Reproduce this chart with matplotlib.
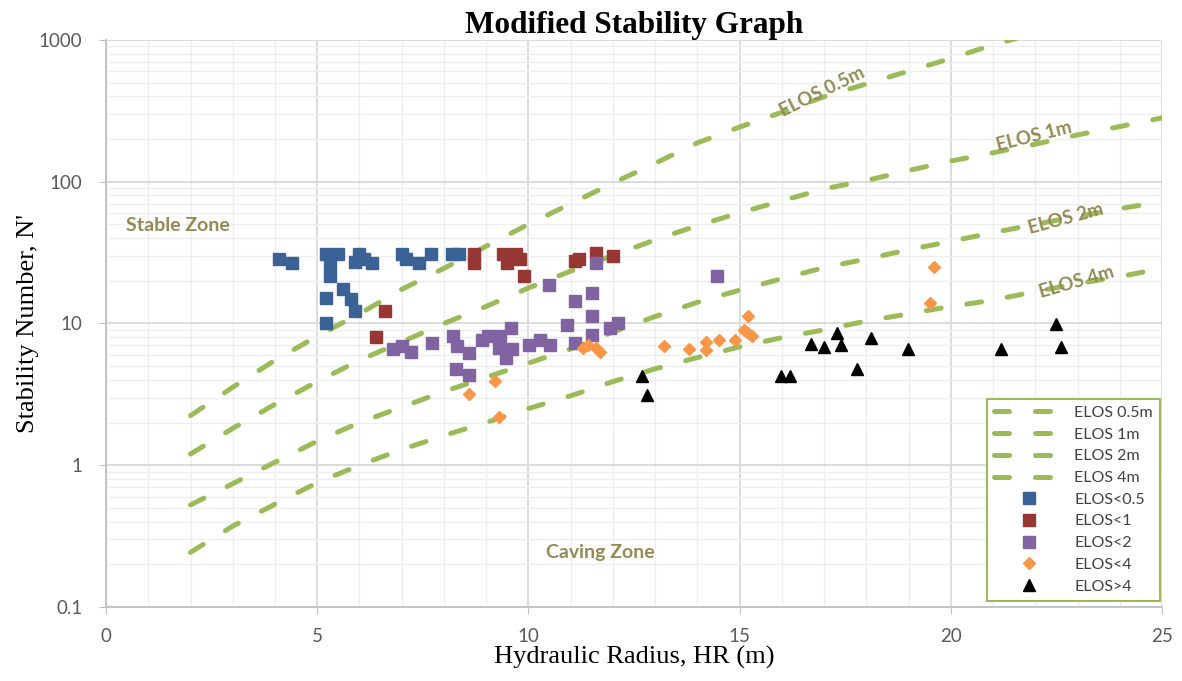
import matplotlib
matplotlib.use('Agg')
import matplotlib.pyplot as plt
from matplotlib.ticker import MultipleLocator, LogLocator, FuncFormatter, NullFormatter

# ELOS design lines (hydraulic radius vs stability number)
elos_x = [2, 3, 4, 5, 6, 7, 8, 9, 10, 11, 12, 13, 14, 15, 16, 17, 18, 19, 20, 21, 22, 23, 24, 25]
elos_05 = [2.24, 3.55, 5.50, 8.13, 11.7, 17.4, 24.5, 35.1, 50.1, 70.0, 97.7, 135, 188, 243,
           309, 398, 490, 603, 741, 923, 1120]
elos_1 = [1.20, 1.82, 2.69, 3.89, 5.50, 7.41, 10.0, 13.2, 17.8, 23.4, 30.2, 38.9, 49.0, 60.3,
          73.3, 89.1, 102, 120, 140, 160, 184, 214, 245, 282]
elos_2 = [0.525, 0.741, 1.05, 1.48, 2.00, 2.57, 3.31, 4.17, 5.25, 6.61, 8.71, 11.2, 14.1, 17.2,
          20.7, 24.8, 28.5, 33.1, 38.0, 43.7, 50.1, 56.9, 64.6, 72.4]
elos_4 = [0.243, 0.372, 0.531, 0.753, 1.00, 1.29, 1.62, 2.00, 2.51, 3.09, 3.89, 4.79, 5.75, 6.84,
          7.94, 9.02, 10.4, 11.7, 13.2, 14.6, 16.8, 19.1, 21.4, 24.5]

# case histories grouped by measured ELOS
hr_05 = [4.1, 4.4, 5.2, 5.5, 5.3, 5.3, 5.2, 5.6, 5.8, 5.9, 5.2, 6.0, 5.9, 6.1, 6.3, 7.0, 7.1, 7.4, 7.7, 8.2, 8.35]
n_05 = [28.5, 26.6, 30.8, 30.8, 26.6, 21.7, 15.1, 17.4, 14.9, 12.3, 10.0, 30.8, 27.3, 28.4, 26.6, 30.8, 28.4, 26.6, 30.8, 30.8, 30.8]

hr_1 = [8.7, 8.7, 9.4, 9.7, 9.5, 9.8, 9.9, 6.6, 6.4, 11.1, 11.2, 11.6, 12.0]
n_1 = [30.9, 26.6, 30.9, 30.9, 26.6, 28.4, 21.7, 12.3, 8.0, 27.7, 28.4, 31.3, 29.9]

hr_2 = [6.8, 7.0, 7.22, 7.71, 8.22, 8.3, 8.6, 8.28, 8.6, 8.89, 9.05, 9.33, 9.31, 9.59, 9.6, 9.48,
        10.01, 10.27, 10.51, 10.49, 11.1, 11.5, 11.5, 10.91, 11.1, 11.5, 11.92, 12.13, 11.6, 14.46]
n_2 = [6.61, 6.93, 6.33, 7.24, 8.16, 6.93, 6.22, 4.75, 4.33, 7.66, 8.16, 8.16, 6.75, 9.25, 6.61, 5.74,
       7.05, 7.66, 7.05, 18.7, 14.3, 16.5, 11.2, 9.76, 7.24, 8.30, 9.25, 10.1, 26.9, 21.7]

hr_4 = [8.6, 9.2, 9.3, 11.3, 11.4, 11.6, 11.7, 13.2, 13.8, 14.2, 14.2, 14.5, 14.9, 15.1, 15.2, 15.2, 15.3, 19.5, 19.6]
n_4 = [3.2, 3.9, 2.2, 6.7, 7.0, 6.7, 6.3, 6.9, 6.6, 7.4, 6.5, 7.7, 7.6, 9.0, 11.3, 8.6, 8.1, 13.9, 24.9]

hr_gt4 = [12.68, 12.8, 15.98, 16.19, 16.68, 17.0, 17.3, 17.4, 17.79, 18.1, 18.99, 21.19, 22.49, 22.6]
n_gt4 = [4.27, 3.13, 4.27, 4.27, 7.16, 6.86, 8.61, 7.05, 4.78, 7.87, 6.58, 6.58, 9.9, 6.86]

sans = ['Lato', 'DejaVu Sans']
serif = ['Liberation Serif', 'DejaVu Serif']
green = '#9BBB59'
olive = '#948A54'

fig = plt.figure(figsize=(11.82, 6.81), dpi=100)
ax = fig.add_axes([0.0897, 0.1087, 0.8934, 0.8326])

line_kw = dict(color=green, lw=3.6, dashes=(3.0, 5.2), dash_capstyle='round', zorder=2)
ax.plot(elos_x[:len(elos_05)], elos_05, label='ELOS 0.5m', **line_kw)
ax.plot(elos_x, elos_1, label='ELOS 1m', **line_kw)
ax.plot(elos_x, elos_2, label='ELOS 2m', **line_kw)
ax.plot(elos_x, elos_4, label='ELOS 4m', **line_kw)

ax.plot(hr_05, n_05, 's', color='#3A6296', ms=8.8, lw=0, label='ELOS<0.5', zorder=3)
ax.plot(hr_1, n_1, 's', color='#963734', ms=8.8, lw=0, label='ELOS<1', zorder=3)
ax.plot(hr_2, n_2, 's', color='#8064A2', ms=8.8, lw=0, label='ELOS<2', zorder=3)
ax.plot(hr_4, n_4, 'D', color='#F79646', ms=6.5, lw=0, label='ELOS<4', zorder=3)
ax.plot(hr_gt4, n_gt4, '^', color='black', ms=9, lw=0, label='ELOS>4', zorder=3)

ax.set_yscale('log')
ax.set_xlim(0, 25)
ax.set_ylim(0.1, 1000)
ax.xaxis.set_major_locator(MultipleLocator(5))
ax.xaxis.set_minor_locator(MultipleLocator(1))
ax.yaxis.set_major_locator(LogLocator(base=10, numticks=10))
ax.yaxis.set_minor_locator(LogLocator(base=10, subs=range(2, 10), numticks=20))
ax.yaxis.set_major_formatter(FuncFormatter(lambda v, p: f'{v:g}'))
ax.yaxis.set_minor_formatter(NullFormatter())

ax.grid(which='major', color='#D9D9D9', lw=1.3, zorder=0)
ax.grid(which='minor', color='#EEEEEE', lw=1.0, zorder=0)
ax.set_axisbelow(True)
for side in ['top', 'right']:
    ax.spines[side].set_visible(False)
for side in ['left', 'bottom']:
    ax.spines[side].set_color('#BFBFBF')
    ax.spines[side].set_linewidth(1.3)
ax.tick_params(which='major', length=5, color='#BFBFBF', labelcolor='#595959', labelsize=13.5)
ax.tick_params(axis='x', which='major', pad=10)
ax.tick_params(axis='y', which='major', pad=12)
ax.tick_params(which='minor', length=0)
for lbl in ax.get_xticklabels() + ax.get_yticklabels():
    lbl.set_family(sans)

ax.set_title('Modified Stability Graph', family=serif, fontweight='bold', fontsize=22.5, pad=4)
ax.set_xlabel('Hydraulic Radius, HR (m)', family=serif, fontsize=19, labelpad=1)
ax.set_ylabel("Stability Number, N'", family=serif, fontsize=19, labelpad=0)

zone_kw = dict(family=sans, fontweight='bold', fontsize=14, color=olive, va='center')
ax.text(0.47, 49.5, 'Stable Zone', ha='left', **zone_kw)
ax.text(11.7, 0.244, 'Caving Zone', ha='center', **zone_kw)

lab_kw = dict(family=sans, fontweight='bold', fontsize=13.5, color=olive, ha='center', va='center',
              rotation_mode='anchor')
ax.text(16.96, 430, 'ELOS 0.5m', rotation=26, **lab_kw)
ax.text(21.97, 210, 'ELOS 1m', rotation=14, **lab_kw)
ax.text(22.72, 55, 'ELOS 2m', rotation=15, **lab_kw)
ax.text(22.98, 19.5, 'ELOS 4m', rotation=16, **lab_kw)

leg = ax.legend(loc='lower right', bbox_to_anchor=(0.998, 0.011), borderaxespad=0,
                prop={'family': sans, 'size': 11.5}, handlelength=4.3, handletextpad=0.7,
                labelspacing=0.47, numpoints=1, fancybox=False, framealpha=1,
                edgecolor=green, borderpad=0.45)
leg.get_frame().set_linewidth(1.5)
for t in leg.get_texts():
    t.set_color('#404040')

fig.savefig('out.png', dpi=100)
